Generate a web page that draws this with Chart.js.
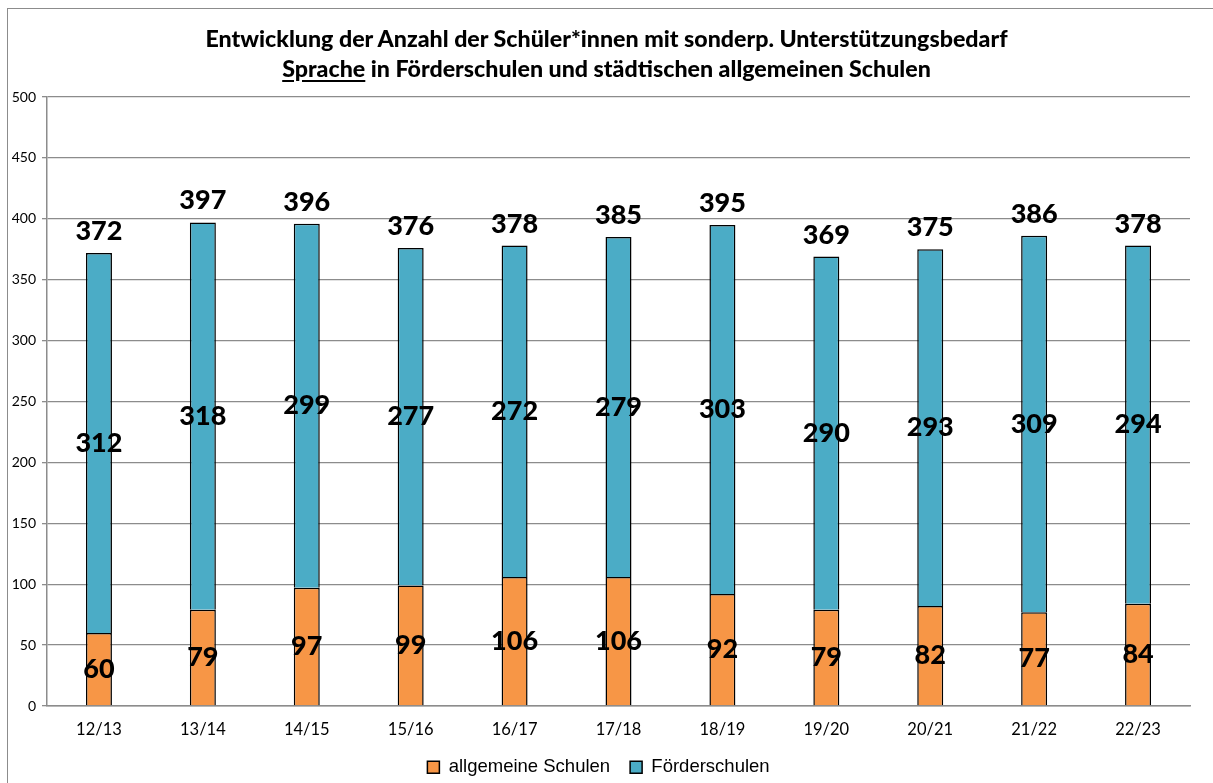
<!DOCTYPE html>
<html lang="de">
<head>
<meta charset="UTF-8">
<title>Sprache - Schüler*innen</title>
<script src="https://cdn.jsdelivr.net/npm/chart.js"></script>
<style>
    html, body { margin: 0; padding: 0; background: #fff; }
    .rahmen {
        position: absolute; left: 7px; top: 8px; width: 1220px; height: 790px;
        border-left: 1px solid #8c8c8c; border-top: 1px solid #8c8c8c;
    }
    .titel {
        position: absolute; left: 0; top: 23px; width: 1213px; text-align: center;
        font-family: Lato, sans-serif; font-weight: 900; font-size: 23.2px; line-height: 30px; color: #000;
    }
    .titel u { text-underline-offset: 3px; }
    #wrap { position: absolute; left: 0; top: 0; width: 1213px; height: 783px; }
</style>
</head>
<body>
<div class="rahmen"></div>
<div id="wrap"><canvas id="diagramm"></canvas></div>
<div class="titel">
    Entwicklung der Anzahl der Schüler*innen mit sonderp. Unterstützungsbedarf<br>
    <u>Sprache</u> in Förderschulen und städtischen allgemeinen Schulen
</div>

<script>
    // Schuljahre
    const schuljahre = ['12/13', '13/14', '14/15', '15/16', '16/17', '17/18', '18/19', '19/20', '20/21', '21/22', '22/23'];
    // allgemeine Schulen
    const allgemein = [60, 79, 97, 99, 106, 106, 92, 79, 82, 77, 84];
    // Förderschulen
    const foerder = [312, 318, 299, 277, 272, 279, 303, 290, 293, 309, 294];
    // Summen oben
    const summen = [372, 397, 396, 376, 378, 385, 395, 369, 375, 386, 378];

    const yMax = 500;
    const yStep = 50;

    // eigene Beschriftung der Balken (kein datalabels-Plugin vorhanden)
    const beschriftung = {
        id: 'beschriftung',
        afterDatasetsDraw(chart) {
            const ctx = chart.ctx;
            ctx.save();
            ctx.fillStyle = '#000';
            ctx.font = '900 27px Lato';
            ctx.textAlign = 'center';
            ctx.textBaseline = 'middle';
            chart.data.datasets.forEach(function (ds, d) {
                const meta = chart.getDatasetMeta(d);
                meta.data.forEach(function (el, i) {
                    ctx.fillText(ds.data[i], el.x, (el.y + el.base) / 2);
                });
            });
            // Summen über den Balken
            const oben = chart.getDatasetMeta(1);
            ctx.textBaseline = 'alphabetic';
            oben.data.forEach(function (el, i) {
                ctx.fillText(summen[i], el.x, el.y - 13);
            });
            ctx.restore();
        }
    };

    new Chart(document.getElementById('diagramm'), {
        type: 'bar',
        data: {
            labels: schuljahre,
            datasets: [
                {
                    label: 'allgemeine Schulen',
                    data: allgemein,
                    backgroundColor: '#F79646',
                    borderColor: '#000',
                    borderWidth: 1.5,
                    barPercentage: 0.25,
                    categoryPercentage: 1
                },
                {
                    label: 'Förderschulen',
                    data: foerder,
                    backgroundColor: '#4BACC6',
                    borderColor: '#000',
                    borderWidth: 1.5,
                    barPercentage: 0.25,
                    categoryPercentage: 1
                }
            ]
        },
        options: {
            responsive: true,
            maintainAspectRatio: false,
            animation: false,
            layout: { padding: { left: 7, right: 23, top: 97, bottom: 0 } },
            plugins: {
                tooltip: { enabled: false },
                legend: {
                    position: 'bottom',
                    maxHeight: 45,
                    labels: {
                        color: '#000',
                        font: { family: 'Liberation Sans', size: 18.5 },
                        boxWidth: 12,
                        boxHeight: 12,
                        padding: 20,
                        useBorderRadius: false
                    }
                }
            },
            scales: {
                x: {
                    stacked: true,
                    grid: { display: false, drawTicks: false },
                    border: { color: '#8c8c8c', width: 1.5 },
                    ticks: { color: '#000', font: { family: 'Lato', size: 16.5 }, padding: 14 },
                    afterFit(s) { s.height = 32; }
                },
                y: {
                    stacked: true,
                    min: 0,
                    max: yMax,
                    ticks: { stepSize: yStep, color: '#000', font: { family: 'Lato', size: 14 }, padding: 6 },
                    grid: { color: '#8c8c8c', lineWidth: 1.3, tickLength: 5 },
                    border: { color: '#8c8c8c', width: 1.5 },
                    afterFit(s) { s.width = 40; }
                }
            }
        },
        plugins: [beschriftung]
    });
</script>
</body>
</html>
